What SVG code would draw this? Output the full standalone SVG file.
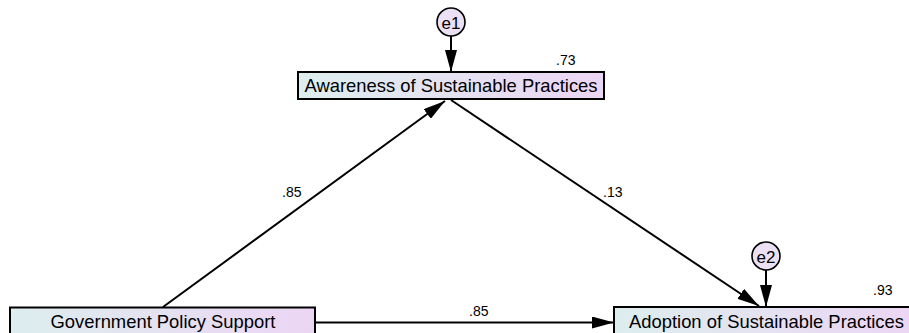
<svg xmlns="http://www.w3.org/2000/svg" width="909" height="333" viewBox="0 0 909 333">
<style>
.box{stroke:#000;stroke-width:2;fill:url(#g)}
.lbl{font-family:"Liberation Sans",Arial,sans-serif;font-size:18.4px;fill:#000;text-anchor:middle}
.num{font-family:"Liberation Sans",Arial,sans-serif;font-size:14px;fill:#000}
.err{stroke:#000;stroke-width:1.6;fill:#ece0f4}
.con{stroke:#000;stroke-width:2;fill:none;marker-end:url(#ah)}
</style>
<defs>
<linearGradient id="g" x1="0" y1="0" x2="1" y2="0">
<stop offset="0" stop-color="#ddeeee"/>
<stop offset="1" stop-color="#ecd5f4"/>
</linearGradient>
<marker id="ah" markerUnits="userSpaceOnUse" markerWidth="22" markerHeight="12" refX="22" refY="6" orient="auto">
<path d="M0,0 L22,6 L0,12 z" fill="#000"/>
</marker>
</defs>
<rect width="909" height="333" fill="#fff"/>
<g id="connectors">
<line class="con" x1="451" y1="36" x2="451" y2="72"/>
<line class="con" x1="766" y1="270" x2="766" y2="307"/>
<line class="con" x1="163" y1="307" x2="445" y2="101"/>
<line class="con" x1="451" y1="100" x2="759" y2="306"/>
<line class="con" x1="315" y1="322.5" x2="614" y2="322.5"/>
<text class="num" x="282" y="197">.85</text>
<text class="num" x="603" y="197">.13</text>
<text class="num" x="469" y="316">.85</text>
</g>
<g id="e1">
<circle class="err" cx="451" cy="22" r="14"/>
<text class="lbl" x="451" y="28.5" style="font-size:17px">e1</text>
</g>
<g id="awareness">
<rect class="box" x="298" y="72" width="306" height="27"/>
<text class="lbl" x="451" y="92">Awareness of Sustainable Practices</text>
<text class="num" x="556" y="65">.73</text>
</g>
<g id="e2">
<circle class="err" cx="766" cy="256" r="14"/>
<text class="lbl" x="766" y="262.5" style="font-size:17px">e2</text>
</g>
<g id="government">
<rect class="box" x="10" y="307.5" width="305" height="32"/>
<text class="lbl" x="163" y="327.5">Government Policy Support</text>
</g>
<g id="adoption">
<rect class="box" x="614" y="307" width="306" height="32"/>
<text class="lbl" x="766.5" y="327.5">Adoption of Sustainable Practices</text>
<text class="num" x="873" y="295">.93</text>
</g>
</svg>
